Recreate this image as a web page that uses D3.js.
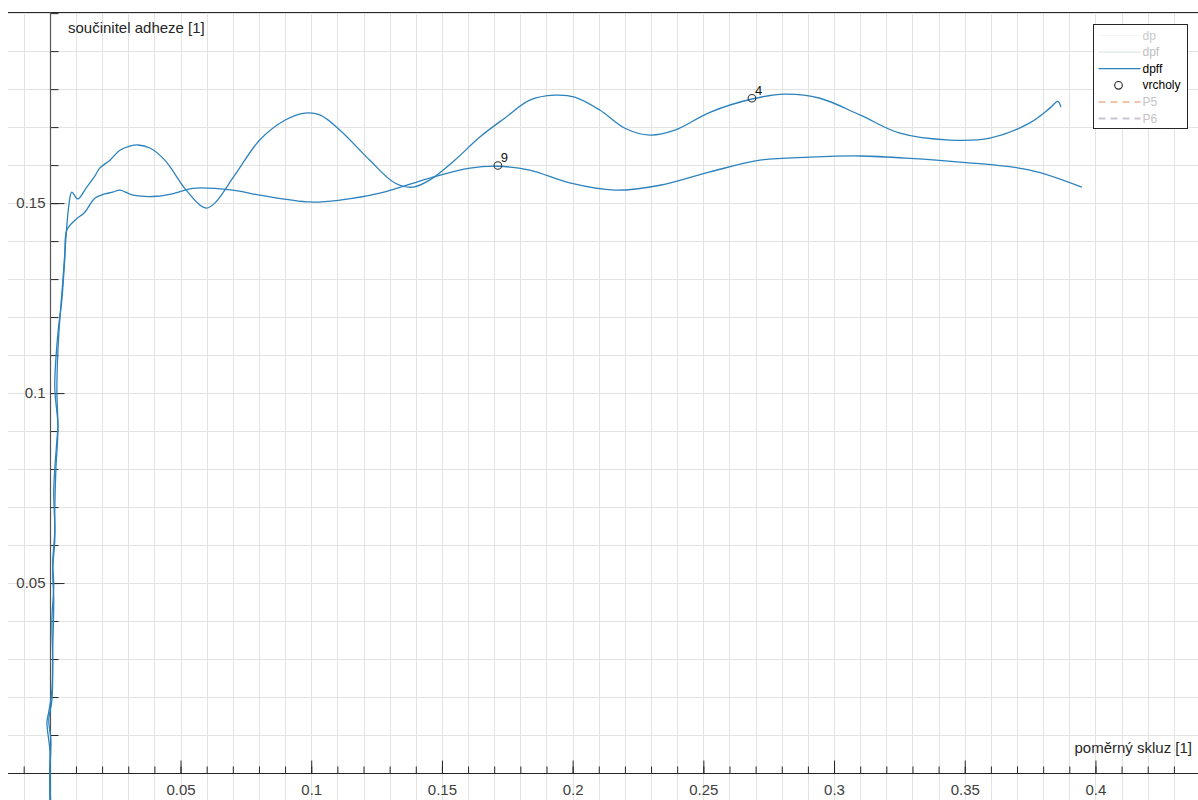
<!DOCTYPE html>
<html>
<head>
<meta charset="utf-8">
<script src="https://cdn.jsdelivr.net/npm/d3@7"></script>
<style>
  html, body { margin: 0; padding: 0; background: #fff; }
  svg { display: block; font-family: "Liberation Sans", Arial, sans-serif; }
</style>
</head>
<body>
<div id="chart"></div>
<script>
// upper (wavy) dpff curve: [poměrný skluz, součinitel adheze]
const dpffUpper = [
  [0.0004, -0.0097], [0, 0], [0, 0.0061], [-0.0011, 0.0134], [-0.0004, 0.0161],
  [0.0008, 0.0218], [0.0011, 0.0324], [0.0015, 0.0455], [0.0011, 0.0534], [0.0019, 0.0613],
  [0.0019, 0.0692], [0.0023, 0.0797], [0.0031, 0.0903], [0.0027, 0.1008], [0.0031, 0.1113],
  [0.0038, 0.1192], [0.005, 0.1297], [0.0061, 0.1403], [0.0073, 0.1495], [0.0084, 0.1529],
  [0.0107, 0.1511], [0.0138, 0.1539], [0.0172, 0.1571], [0.0191, 0.1592], [0.023, 0.1613],
  [0.0268, 0.1639], [0.0306, 0.165], [0.0337, 0.1653], [0.0383, 0.1645], [0.044, 0.1613],
  [0.0516, 0.1539], [0.0574, 0.1495], [0.06, 0.1487], [0.0631, 0.15], [0.0708, 0.1574],
  [0.0803, 0.1666], [0.0899, 0.1718], [0.0976, 0.1737], [0.1033, 0.1732], [0.111, 0.1692],
  [0.1224, 0.1613], [0.132, 0.1553], [0.1389, 0.1542], [0.1454, 0.1561], [0.1549, 0.1613],
  [0.1645, 0.1674], [0.1741, 0.1724], [0.1836, 0.1771], [0.1932, 0.1784], [0.2008, 0.1779],
  [0.2104, 0.1745], [0.22, 0.1697], [0.2295, 0.1679], [0.2391, 0.1692], [0.2525, 0.1739],
  [0.2686, 0.1774], [0.2812, 0.1787], [0.2946, 0.1776], [0.3099, 0.1732], [0.3252, 0.1684],
  [0.3443, 0.1666], [0.3596, 0.1671], [0.3749, 0.1711], [0.3826, 0.175], [0.3856, 0.1768],
  [0.3868, 0.1753]
];

// lower (flat) dpff curve
const dpffLower = [
  [0, -0.0071], [0, 0], [0.0004, 0.0087], [-0.0004, 0.0139], [0.0008, 0.0192],
  [0.0011, 0.0297], [0.0008, 0.0403], [0.0015, 0.0495], [0.0011, 0.0553], [0.0019, 0.0639],
  [0.0015, 0.0745], [0.0027, 0.0876], [0.0031, 0.0916], [0.0019, 0.1016], [0.0031, 0.1158],
  [0.0046, 0.1245], [0.0057, 0.135], [0.0065, 0.1429], [0.0096, 0.1455], [0.0134, 0.1476],
  [0.0172, 0.1513], [0.021, 0.1524], [0.0241, 0.1529], [0.0268, 0.1534], [0.0318, 0.1521],
  [0.0409, 0.1518], [0.0478, 0.1526], [0.0547, 0.1539], [0.07, 0.1534], [0.0803, 0.1521],
  [0.0995, 0.1503], [0.111, 0.1508], [0.1262, 0.1526], [0.1454, 0.1566], [0.1607, 0.1592],
  [0.1714, 0.1597], [0.1836, 0.1587], [0.1989, 0.1553], [0.2161, 0.1534], [0.2334, 0.1547],
  [0.2525, 0.1582], [0.2716, 0.1613], [0.2907, 0.1621], [0.3099, 0.1624], [0.329, 0.1618],
  [0.3481, 0.1608], [0.3749, 0.1587], [0.3948, 0.1542]
];

// vrcholy (peaks) with their labels
const peakX = [0.2686, 0.1714];
const peakY = [0.1776, 0.1599];
const peakLabels = ['4', '9'];

const xMajorTicks = [0.05, 0.1, 0.15, 0.2, 0.25, 0.3, 0.35, 0.4];
const xMinorTicks = d3.range(-1, 44).map(i => i / 100);
const yMajorTicks = [0.05, 0.1, 0.15];
const yMinorTicks = d3.range(1, 21).map(i => i / 100);

const legendNames = ['dp', 'dpf', 'dpff', 'vrcholy', 'P5', 'P6'];
const legendColors = ['#f4f4f4', '#dfe6e6', '#2b82bd', '#262626', '#f3c4ad', '#cbc3da'];
const legendText = ['#c9c9c9', '#bdbdbd', '#000', '#000', '#c4c4c4', '#c4c4c4'];

const width = 1198;
const height = 800;
const blue = '#2b82bd';
const axisColor = '#262626';
const fontSize = 15;

const x = d3.scaleLinear().domain([-0.016, 0.44]).range([8, 1200]);
const y = d3.scaleLinear().domain([-0.0071, 0.2003]).range([800, 12]);

const svg = d3.select('#chart').append('svg')
  .attr('width', width)
  .attr('height', height);

svg.append('rect').attr('width', width).attr('height', height).attr('fill', '#fff');

// grid
const grid = svg.append('g').attr('stroke', '#e3e3e3').attr('stroke-width', 1);
grid.selectAll('line.v').data(xMinorTicks).enter().append('line')
  .attr('x1', d => Math.round(x(d)) + 0.5).attr('x2', d => Math.round(x(d)) + 0.5)
  .attr('y1', y(0.2003)).attr('y2', height);
grid.selectAll('line.h').data(yMinorTicks.concat([0])).enter().append('line')
  .attr('x1', 8).attr('x2', width)
  .attr('y1', d => Math.round(y(d)) + 0.5).attr('y2', d => Math.round(y(d)) + 0.5);

// top box edge
svg.append('line')
  .attr('x1', 8).attr('x2', width)
  .attr('y1', 12.5).attr('y2', 12.5)
  .attr('stroke', axisColor).attr('stroke-width', 1);

// axes through the origin
const x0 = Math.round(x(0)) + 0.5;
const y0 = Math.round(y(0)) + 0.5;

svg.append('g')
  .attr('transform', `translate(0,${y0})`)
  .call(d3.axisBottom(x).tickValues(xMinorTicks.filter(d => Math.abs(d) > 1e-9)).tickSize(-7).tickFormat(''))
  .call(g => g.select('.domain').remove())
  .call(g => g.selectAll('line').attr('stroke', axisColor));

svg.append('g')
  .attr('transform', `translate(0,${y0})`)
  .call(d3.axisBottom(x).tickValues(xMajorTicks).tickSize(-13).tickPadding(11).tickFormat(d3.format('')))
  .call(g => g.select('.domain').remove())
  .call(g => g.selectAll('line').attr('stroke', axisColor))
  .call(g => g.selectAll('text').attr('fill', '#404040').attr('font-size', fontSize)
    .attr('font-family', '"Liberation Sans", Arial, sans-serif'));

svg.append('g')
  .attr('transform', `translate(${x0},0)`)
  .call(d3.axisLeft(y).tickValues(yMinorTicks).tickSize(-8).tickFormat(''))
  .call(g => g.select('.domain').remove())
  .call(g => g.selectAll('line').attr('stroke', axisColor));

svg.append('g')
  .attr('transform', `translate(${x0},0)`)
  .call(d3.axisLeft(y).tickValues(yMajorTicks).tickSize(-14).tickPadding(5).tickFormat(d3.format('')))
  .call(g => g.select('.domain').remove())
  .call(g => g.selectAll('line').attr('stroke', axisColor))
  .call(g => g.selectAll('text').attr('fill', '#404040').attr('font-size', fontSize)
    .attr('font-family', '"Liberation Sans", Arial, sans-serif'));

svg.append('line')
  .attr('x1', 8).attr('x2', width).attr('y1', y0).attr('y2', y0)
  .attr('stroke', axisColor).attr('stroke-width', 1.2);
svg.append('line')
  .attr('x1', x0).attr('x2', x0).attr('y1', 12).attr('y2', height)
  .attr('stroke', '#555').attr('stroke-width', 1.2);

// axis titles
svg.append('text')
  .attr('x', 68).attr('y', 33)
  .attr('font-size', fontSize).attr('fill', '#262626')
  .text('součinitel adheze [1]');
svg.append('text')
  .attr('x', 1192).attr('y', 753)
  .attr('text-anchor', 'end')
  .attr('font-size', fontSize).attr('fill', '#262626')
  .text('poměrný skluz [1]');

// curves
const line = d3.line()
  .x(d => x(d[0]))
  .y(d => y(d[1]))
  .curve(d3.curveCatmullRom.alpha(0.5));

svg.append('g').selectAll('path')
  .data([dpffLower, dpffUpper])
  .enter().append('path')
  .attr('d', line)
  .attr('fill', 'none')
  .attr('stroke', blue)
  .attr('stroke-width', 1.3)
  .attr('stroke-linejoin', 'round');

// peaks
const peaks = peakX.map((px, i) => ({ x: px, y: peakY[i], label: peakLabels[i] }));
svg.append('g').selectAll('circle')
  .data(peaks)
  .enter().append('circle')
  .attr('cx', d => x(d.x))
  .attr('cy', d => y(d.y))
  .attr('r', 3.8)
  .attr('fill', 'none')
  .attr('stroke', '#333')
  .attr('stroke-width', 1.1);
svg.append('g').selectAll('text')
  .data(peaks)
  .enter().append('text')
  .attr('x', d => x(d.x) + 3)
  .attr('y', d => y(d.y) - 3)
  .attr('font-size', 13)
  .attr('fill', '#111')
  .text(d => d.label);

// legend
const lg = svg.append('g').attr('transform', 'translate(1093.5,24.5)');
lg.append('rect')
  .attr('width', 94).attr('height', 104)
  .attr('fill', '#fff').attr('stroke', axisColor).attr('stroke-width', 1);

const rowY = i => 11 + i * 16.6;
legendNames.forEach((name, i) => {
  const row = lg.append('g').attr('transform', `translate(0,${rowY(i)})`);
  if (name === 'vrcholy') {
    row.append('circle').attr('cx', 25).attr('cy', 0).attr('r', 3.8)
      .attr('fill', 'none').attr('stroke', legendColors[i]).attr('stroke-width', 1.1);
  } else {
    row.append('line')
      .attr('x1', 5).attr('x2', 47).attr('y1', 0).attr('y2', 0)
      .attr('stroke', legendColors[i])
      .attr('stroke-width', name.startsWith('P') ? 2 : 1.2)
      .attr('stroke-dasharray', name.startsWith('P') ? '7,5' : null);
  }
  row.append('text')
    .attr('x', 49).attr('y', 4)
    .attr('font-size', 12)
    .attr('fill', legendText[i])
    .text(name);
});
</script>
</body>
</html>
